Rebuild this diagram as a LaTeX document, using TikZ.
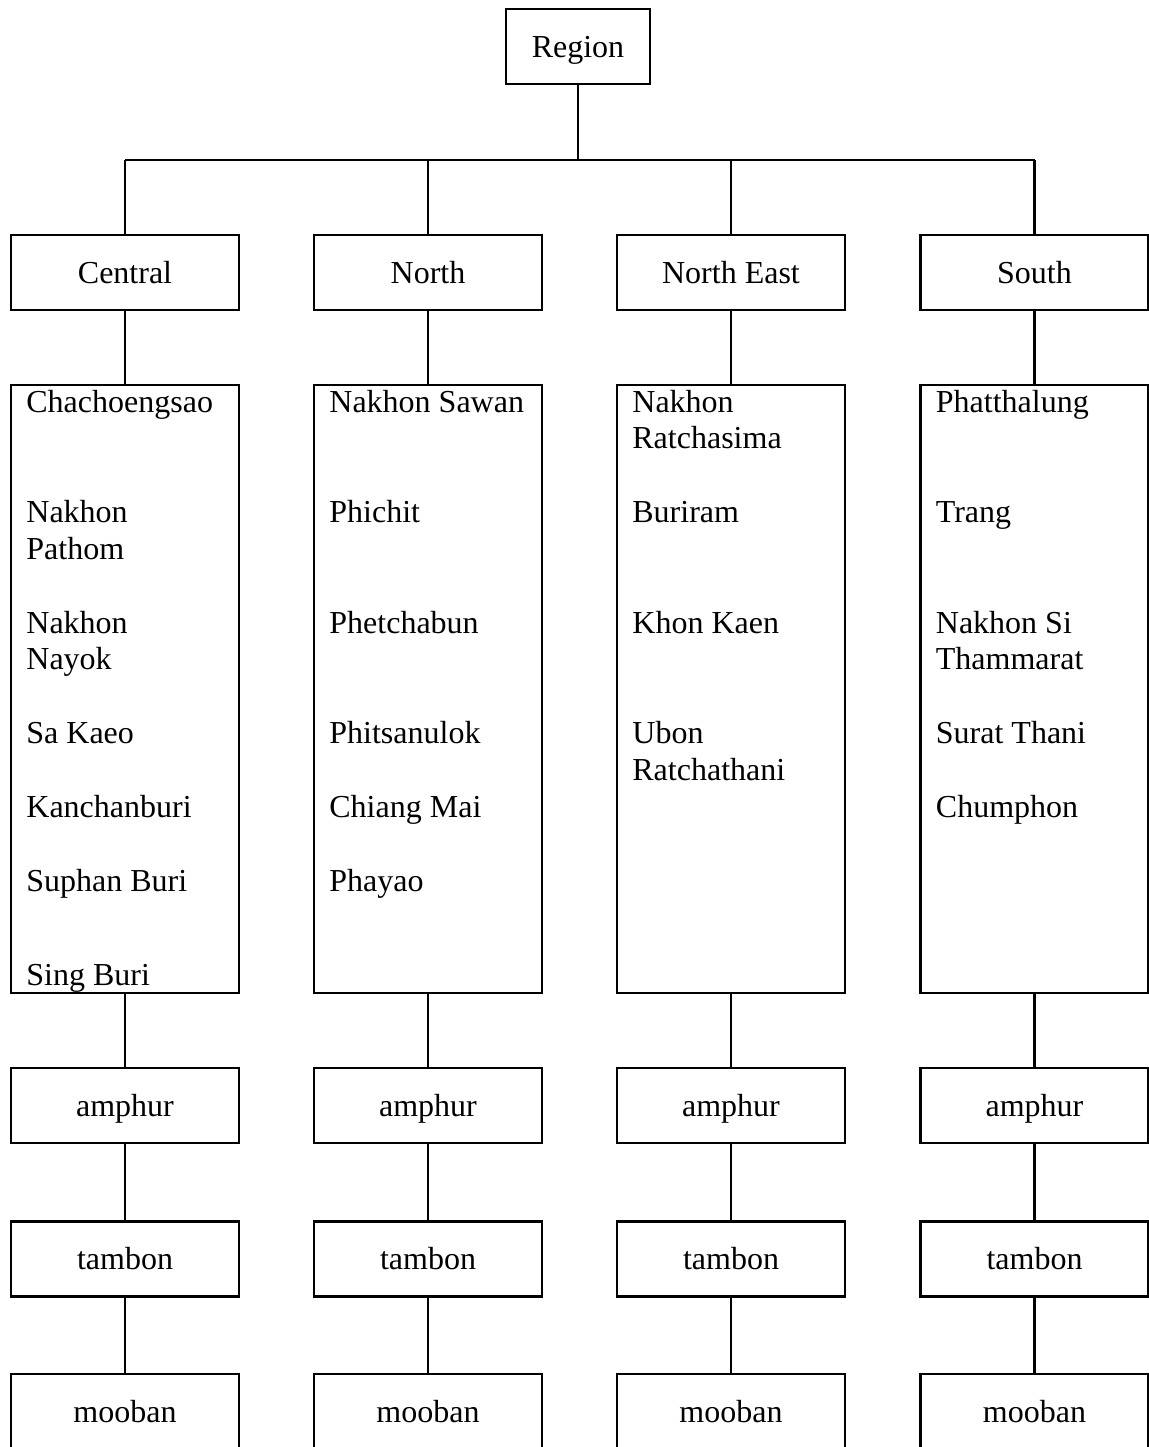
\documentclass[tikz,border=0pt]{standalone}
\usepackage{fontspec}
\setmainfont{Liberation Serif}
\tikzset{
  levelbox/.style={draw, line width=1.4pt, minimum width=114pt, minimum height=37.5pt,
    inner sep=0pt, text height=14pt, text depth=3.5pt, font=\fontsize{16}{18.4}\selectfont},
  listbox/.style={draw, line width=1.4pt, minimum width=114pt, minimum height=304pt, inner sep=0pt},
  listitem/.style={anchor=base west, inner sep=0pt, font=\fontsize{16}{18.4}\selectfont},
  link/.style={line width=1.4pt},
}
\begin{document}
\begin{tikzpicture}[x=0.5pt, y=-0.5pt]
        \useasboundingbox (0,0) rectangle (1149,1447);
        % top of the tree
        \node[levelbox, minimum width=72pt] (region) at (578,46.5) {Region};
        \coordinate (bus) at (578,160);
        \draw[link] (region) -- (bus);
        % one column per region
        \foreach \col/\x/\name in {cen/125/Central, nor/428/North, nea/731/North East, sou/1034.5/South} {
          \node[levelbox] (\col) at (\x,272.5) {\name};
          \node[listbox] (\col-list) at (\x,689) {};
          \node[levelbox] (\col-amphur) at (\x,1105.5) {amphur};
          \node[levelbox] (\col-tambon) at (\x,1259) {tambon};
          \node[levelbox] (\col-mooban) at (\x,1411.5) {mooban};
          \draw[link] (\col.north) -- (\col.north |- bus);
          \draw[link] (\col) -- (\col-list);
          \draw[link] (\col-list) -- (\col-amphur);
          \draw[link] (\col-amphur) -- (\col-tambon);
          \draw[link] (\col-tambon) -- (\col-mooban);
        }
        \draw[link] (cen.north |- bus) -- (sou.north |- bus);
        % provinces, on a grid of lines
        \foreach \n/\txt [count=\i] in {0/Chachoengsao, 3/Nakhon, 4/Pathom, 6/Nakhon, 7/Nayok,
            9/Sa Kaeo, 11/Kanchanburi, 13/Suphan Buri, 15.55/Sing Buri}
          \node[listitem] (cen-\i) at (26,{412+36.85*\n}) {\txt};
        \foreach \n/\txt [count=\i] in {0/Nakhon Sawan, 3/Phichit, 6/Phetchabun, 9/Phitsanulok,
            11/Chiang Mai, 13/Phayao}
          \node[listitem] (nor-\i) at (329,{412+36.85*\n}) {\txt};
        \foreach \n/\txt [count=\i] in {0/Nakhon, 1/Ratchasima, 3/Buriram, 6/Khon Kaen, 9/Ubon,
            10/Ratchathani}
          \node[listitem] (nea-\i) at (632,{412+36.85*\n}) {\txt};
        \foreach \n/\txt [count=\i] in {0/Phatthalung, 3/Trang, 6/Nakhon Si, 7/Thammarat,
            9/Surat Thani, 11/Chumphon}
          \node[listitem] (sou-\i) at (935.5,{412+36.85*\n}) {\txt};
\end{tikzpicture}
\end{document}
